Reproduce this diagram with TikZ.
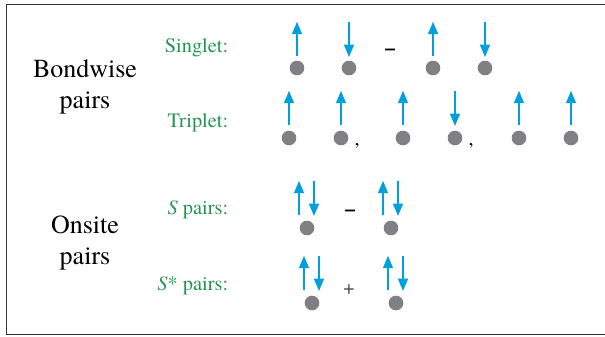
\documentclass[tikz,border=0pt]{standalone}
\usepackage{fontspec}
\setmainfont{texgyretermes}[Extension=.otf, UprightFont=*-regular,
  ItalicFont=*-italic, BoldFont=*-bold, BoldItalicFont=*-bolditalic]
\usepackage{tikz}
\usetikzlibrary{arrows.meta,positioning}
\definecolor{spinblue}{RGB}{0,160,222}
\definecolor{sitegray}{RGB}{128,128,132}
\definecolor{labelgreen}{RGB}{36,150,82}
\tikzset{
  site/.style={circle, fill=sitegray, inner sep=0pt, minimum size=11pt},
  spin/.style={draw=spinblue, line width=2.2pt,
    -{Triangle[length=9.5pt,width=7pt]}},
  kind/.style={anchor=east, text=labelgreen,
    font=\fontsize{15.3}{18}\selectfont},
  group/.style={align=center, font=\fontsize{19.5}{23}\selectfont},
  sign/.style={inner sep=0pt, font=\fontsize{15}{18}\selectfont},
}

\begin{document}
\begin{tikzpicture}[x=0.75pt, y=-0.75pt]
  \useasboundingbox (0,0) rectangle (605,336);
  % frame, open to the right
  \draw[line width=1.2pt, draw=black!80] (606,4.5) -| (6.5,334.5) -- (606,334.5);

  % row titles
  \node[group] (bond) at (85,87) {Bondwise\\pairs};
  \node[group] (onsite) at (85,243) {Onsite\\pairs};
  \node[kind] (singlet) at (233,48) {Singlet:};
  \node[kind] (triplet) at (233,123) {Triplet:};
  \node[kind] (spair) at (233,210) {\textit{S} pairs:};
  \node[kind] (sstar) at (233,286) {\textit{S}* pairs:};

  % singlet
  \foreach \x [count=\i] in {297,349,433,485}
    \node[site] (s\i) at (\x,68) {};
  \foreach \i in {1,3}
    \draw[spin] (s\i.north) ++(0,-4) -- ++(0,-35);
  \foreach \i in {2,4}
    \draw[spin] (s\i.north) ++(0,-38) -- ++(0,35);
  \node[sign] (sminus) at (390,52) {\textbf{--}};

  % triplet
  \foreach \x [count=\i] in {289,341,403,455,519,571}
    \node[site] (t\i) at (\x,138) {};
  \foreach \i in {1,2,3,5,6}
    \draw[spin] (t\i.north) ++(0,-5) -- ++(0,-35);
  \draw[spin] (t4.north) ++(0,-39) -- ++(0,35);
  \node[sign, right=6pt of t2.south east, anchor=north west] (c1) {,};
  \node[sign, right=6pt of t4.south east, anchor=north west] (c2) {,};

  % onsite pairs
  \foreach \x/\y [count=\i] in {307/228,391/228,312/303,396/303}
    \node[site] (o\i) at (\x,\y) {};
  \foreach \i in {1,...,4} {
    \draw[spin] (o\i.north) ++(-8,-5) -- ++(0,-35);
    \draw[spin] (o\i.north) ++(7,-39) -- ++(0,35);
  }
  \node[sign] (ominus) at (350,213) {\textbf{--}};
  \node[sign, text=black!75] (oplus) at (349,290) {+};
\end{tikzpicture}
\end{document}
